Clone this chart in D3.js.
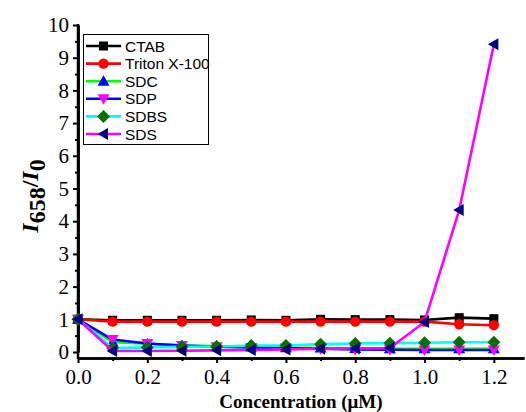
<!DOCTYPE html>
<html>
<head>
<meta charset="utf-8">
<script src="https://cdn.jsdelivr.net/npm/d3@7"></script>
<style>
  body { margin: 0; background: #fff; }
  svg { display: block; }
</style>
</head>
<body>
<svg width="526" height="412"></svg>
<script>
var conc = [0, 0.1, 0.2, 0.3, 0.4, 0.5, 0.6, 0.7, 0.8, 0.9, 1.0, 1.1, 1.2];

var ctab   = [1.0, 0.97, 0.97, 0.97, 0.97, 0.98, 0.97, 1.0, 0.99, 0.99, 0.98, 1.05, 1.02];
var triton = [1.0, 0.93, 0.93, 0.93, 0.93, 0.93, 0.93, 0.93, 0.93, 0.93, 0.93, 0.85, 0.82];
var sdc    = [1.0, 0.30, 0.25, 0.20, 0.18, 0.15, 0.13, 0.12, 0.11, 0.10, 0.10, 0.10, 0.10];
var sdp    = [1.0, 0.38, 0.26, 0.20, 0.16, 0.14, 0.12, 0.10, 0.08, 0.07, 0.06, 0.06, 0.06];
var sdbs   = [1.0, 0.12, 0.14, 0.16, 0.17, 0.20, 0.20, 0.24, 0.26, 0.27, 0.28, 0.30, 0.30];
var sds    = [1.0, 0.03, 0.03, 0.04, 0.05, 0.06, 0.08, 0.10, 0.11, 0.12, 0.92, 4.34, 9.41];

var names = ["CTAB", "Triton X-100", "SDC", "SDP", "SDBS", "SDS"];
var xTicks = [0, 0.2, 0.4, 0.6, 0.8, 1.0, 1.2];
var yTicks = [0, 1, 2, 3, 4, 5, 6, 7, 8, 9, 10];

var series = [
  {name: names[0], values: ctab,   line: "#000000", fill: "#000000", symbol: "square"},
  {name: names[1], values: triton, line: "#ff0000", fill: "#ff0000", symbol: "circle"},
  {name: names[2], values: sdc,    line: "#00ff00", fill: "#0000ff", symbol: "up"},
  {name: names[3], values: sdp,    line: "#0000ff", fill: "#ff00ff", symbol: "down"},
  {name: names[4], values: sdbs,   line: "#00ffff", fill: "#007000", symbol: "diamond"},
  {name: names[5], values: sds,    line: "#ff00ff", fill: "#000080", symbol: "left"}
];

var serif = "Liberation Serif";

var svg = d3.select("svg");

var x = d3.scaleLinear().domain([0, 1.287]).range([78, 524]);
var y = d3.scaleLinear().domain([0, 10]).range([352, 25]);
var yBottom = 358;

// axes
var xAxis = d3.axisBottom(x).tickValues(xTicks).tickFormat(d3.format(".1f")).tickSize(5).tickSizeOuter(0);
var xMinor = d3.axisBottom(x).tickValues(d3.range(0.1, 1.25, 0.2)).tickFormat("").tickSize(3).tickSizeOuter(0);
var yAxis = d3.axisLeft(y).tickValues(yTicks).tickFormat(d3.format("d")).tickSize(5).tickSizeOuter(0);
var yMinor = d3.axisLeft(y).tickValues(d3.range(0.5, 10, 1)).tickFormat("").tickSize(3).tickSizeOuter(0);

function styleAxis(g) {
  g.attr("font-family", serif).attr("font-size", 21);
  g.select(".domain").attr("stroke", "#000").attr("stroke-width", 2.5);
  g.selectAll(".tick line").attr("stroke", "#000").attr("stroke-width", 2);
  g.selectAll(".tick text").attr("fill", "#000");
}

svg.append("g").attr("transform", "translate(0," + yBottom + ")").call(xMinor).call(styleAxis);
svg.append("g").attr("transform", "translate(0," + yBottom + ")").call(xAxis).call(styleAxis)
  .selectAll(".tick text").attr("dy", "0.85em");

svg.append("g").attr("transform", "translate(78,0)").call(yMinor).call(styleAxis);
svg.append("g").attr("transform", "translate(78,0)").call(yAxis).call(styleAxis)
  .selectAll(".tick text").attr("x", -9);

// y axis extends down to x axis
svg.append("line")
  .attr("x1", 78).attr("x2", 78)
  .attr("y1", y(10) - 1).attr("y2", yBottom + 1)
  .attr("stroke", "#000").attr("stroke-width", 2.5);

// titles
svg.append("text")
  .attr("x", 301).attr("y", 408)
  .attr("text-anchor", "middle")
  .attr("font-family", serif)
  .attr("font-weight", "bold")
  .attr("font-size", 19)
  .text("Concentration (\u03bcM)");

var yl = svg.append("text")
  .attr("transform", "translate(38,196) rotate(-90)")
  .attr("text-anchor", "middle")
  .attr("font-family", serif)
  .attr("font-weight", "bold")
  .attr("font-size", 24);
yl.append("tspan").attr("font-style", "italic").text("I");
yl.append("tspan").attr("dy", 7).text("658");
yl.append("tspan").attr("dy", -7).text("/");
yl.append("tspan").attr("font-style", "italic").text("I");
yl.append("tspan").attr("dy", 7).text("0");

// symbols
function marker(g, type, color) {
  var s;
  if (type === "square") s = g.append("rect").attr("x", -4.5).attr("y", -4.5).attr("width", 9).attr("height", 9);
  else if (type === "circle") s = g.append("circle").attr("r", 5.2);
  else {
    var pts = {
      up:      [[0, -6], [6, 4.5], [-6, 4.5]],
      down:    [[0, 6], [6, -4.5], [-6, -4.5]],
      diamond: [[0, -6.5], [6.5, 0], [0, 6.5], [-6.5, 0]],
      left:    [[-6, 0], [4.5, -6], [4.5, 6]]
    }[type];
    s = g.append("polygon").attr("points", pts.map(function(p) { return p.join(","); }).join(" "));
  }
  s.attr("fill", color);
}

var line = d3.line()
  .x(function(d, i) { return x(conc[i]); })
  .y(function(d) { return y(d); });

series.forEach(function(s) {
  svg.append("path")
    .datum(s.values)
    .attr("d", line)
    .attr("fill", "none")
    .attr("stroke", s.line)
    .attr("stroke-width", 2.6)
    .attr("stroke-linejoin", "round");
  s.values.forEach(function(v, i) {
    var g = svg.append("g").attr("transform", "translate(" + x(conc[i]) + "," + y(v) + ")");
    marker(g, s.symbol, s.fill);
  });
});

// legend
var lg = svg.append("g");
lg.append("rect")
  .attr("x", 83.5).attr("y", 34.5).attr("width", 125).attr("height", 110)
  .attr("fill", "#fff").attr("stroke", "#000").attr("stroke-width", 1);

series.forEach(function(s, i) {
  var cy = 46 + i * 17.6;
  lg.append("line")
    .attr("x1", 86).attr("x2", 121).attr("y1", cy).attr("y2", cy)
    .attr("stroke", s.line).attr("stroke-width", 2.6);
  var g = lg.append("g").attr("transform", "translate(103.5," + cy + ")");
  marker(g, s.symbol, s.fill);
  lg.append("text")
    .attr("x", 125).attr("y", cy + 5.5)
    .attr("font-family", "Liberation Sans")
    .attr("font-size", 15.5)
    .text(s.name);
});
</script>
</body>
</html>
